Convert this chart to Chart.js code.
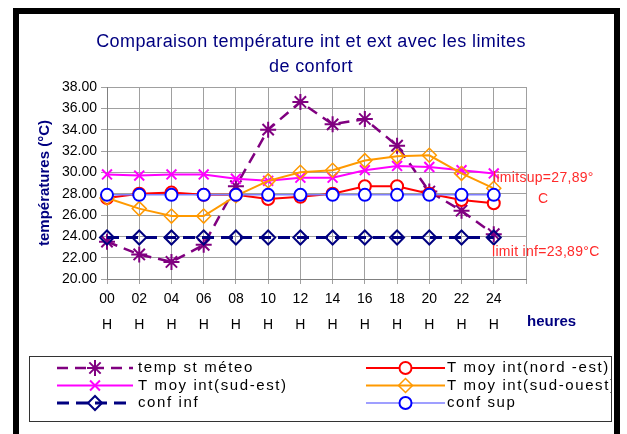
<!DOCTYPE html>
<html>
<head>
<meta charset="utf-8">
<script src="https://cdn.jsdelivr.net/npm/chart.js"></script>
<style>
  html, body { margin: 0; padding: 0; background: #fff; }
  #wrap { width: 627px; height: 434px; }
</style>
</head>
<body>
<div id="wrap"><canvas id="graph" width="627" height="434"></canvas></div>
<script>
// heures de la journee (la derniere case est vide, comme dans Excel)
const heures = ['00', '02', '04', '06', '08', '10', '12', '14', '16', '18', '20', '22', '24', ''];

const tempMeteo = [23.5, 22.3, 21.6, 23.2, 28.7, 34.0, 36.6, 34.5, 35.0, 32.5, 28.2, 26.4, 24.2];
const tNordEst  = [27.6, 28.0, 28.1, 27.9, 27.9, 27.5, 27.7, 28.0, 28.7, 28.7, 28.0, 27.4, 27.1];
const tSudEst   = [29.8, 29.7, 29.8, 29.8, 29.4, 29.2, 29.5, 29.5, 30.2, 30.6, 30.5, 30.2, 29.9];
const tSudOuest = [27.6, 26.6, 25.9, 25.9, 27.8, 29.2, 30.0, 30.2, 31.1, 31.5, 31.6, 29.9, 28.5];
const confInf   = [23.89, 23.89, 23.89, 23.89, 23.89, 23.89, 23.89, 23.89, 23.89, 23.89, 23.89, 23.89, 23.89];
const confSup   = [27.89, 27.89, 27.89, 27.89, 27.89, 27.89, 27.89, 27.89, 27.89, 27.89, 27.89, 27.89, 27.89];

const titre = ['Comparaison température int et ext avec les limites', 'de confort'];
const FONT = 'Arial, "Liberation Sans", sans-serif';

function serie(label, data, color, opts) {
    return Object.assign({
        label: label,
        data: data,
        borderColor: color,
        pointBorderColor: color,
        pointBackgroundColor: 'rgba(0,0,0,0)',
        borderWidth: 2,
        pointBorderWidth: 2,
        pointRadius: 6,
        pointHoverRadius: 6,
        tension: 0,
        fill: false,
        clip: false
    }, opts);
}

const datasets = [
    serie('temp st méteo', tempMeteo, '#800080', {borderDash: [11, 7], borderWidth: 2.5, pointStyle: 'star', pointRadius: 8, order: 6}),
    serie('T moy int(nord -est)', tNordEst, '#ff0000', {pointStyle: 'circle', pointBackgroundColor: '#fff', order: 5}),
    serie('T moy int(sud-est)', tSudEst, '#ff00ff', {pointStyle: 'crossRot', pointRadius: 7, order: 4}),
    serie('T moy int(sud-ouest)', tSudOuest, '#ff9900', {pointStyle: 'rectRot', pointRadius: 7, pointBorderWidth: 1.5, order: 3}),
    serie('conf inf', confInf, '#000080', {borderDash: [12, 7], borderWidth: 3, pointStyle: 'rectRot', pointRadius: 7, order: 2}),
    serie('conf sup', confSup, '#0000ff', {borderColor: '#7f7fff', borderWidth: 1.5, pointStyle: 'circle', pointBackgroundColor: '#fff', order: 1})
];

// cadre, titre, textes et legende dessines a la main
const decor = {
    id: 'decor',
    beforeDraw(chart) {
        const ctx = chart.ctx;
        ctx.save();
        ctx.fillStyle = '#fff';
        ctx.fillRect(0, 0, chart.width, chart.height);
        ctx.restore();
    },
    afterDraw(chart) {
        const ctx = chart.ctx;
        ctx.save();
        // cadre noir
        ctx.fillStyle = '#000';
        ctx.fillRect(13, 8, 607, 6);
        ctx.fillRect(13, 8, 6, 426);
        ctx.fillRect(614, 8, 6, 426);

        // titre
        ctx.fillStyle = '#000080';
        ctx.font = '18px ' + FONT;
        ctx.textAlign = 'center';
        ctx.textBaseline = 'alphabetic';
        ctx.letterSpacing = '0.4px';
        ctx.fillText(titre[0], 311, 47);
        ctx.fillText(titre[1], 311, 72);

        // heures
        ctx.letterSpacing = '0px';
        ctx.font = 'bold 15px ' + FONT;
        ctx.textAlign = 'left';
        ctx.textBaseline = 'middle';
        ctx.fillText('heures', 527, 322);

        // limites
        ctx.fillStyle = '#ff2a2a';
        ctx.font = '14px ' + FONT;
        ctx.letterSpacing = '0.3px';
        ctx.fillText('limitsup=27,89°', 493, 178);
        ctx.fillText('C', 538, 199);
        ctx.fillText('limit inf=23,89°C', 492, 252);

        // legende
        ctx.letterSpacing = '0px';
        ctx.strokeStyle = '#333';
        ctx.lineWidth = 1;
        ctx.strokeRect(29.5, 356.5, 582, 65);
        ctx.beginPath();
        ctx.rect(30, 357, 581, 64);
        ctx.clip();
        const cols = [{x1: 57, x2: 133, xt: 138}, {x1: 366, x2: 445, xt: 447}];
        const rows = [368, 385.5, 403];
        chart.data.datasets.forEach((ds, i) => {
            const c = cols[i % 2];
            const y = rows[Math.floor(i / 2)];
            ctx.save();
            ctx.strokeStyle = ds.borderColor;
            ctx.lineWidth = ds.borderWidth;
            ctx.setLineDash(ds.borderDash || []);
            ctx.beginPath();
            ctx.moveTo(c.x1, y);
            ctx.lineTo(c.x2, y);
            ctx.stroke();
            ctx.setLineDash([]);
            ctx.strokeStyle = ds.pointBorderColor;
            ctx.fillStyle = ds.pointBackgroundColor;
            ctx.lineWidth = ds.pointBorderWidth;
            Chart.helpers.drawPoint(ctx, {
                pointStyle: ds.pointStyle,
                radius: ds.pointRadius,
                rotation: 0,
                borderWidth: ds.pointBorderWidth
            }, (c.x1 + c.x2) / 2, y);
            ctx.restore();
            ctx.fillStyle = '#000';
            ctx.font = '15px ' + FONT;
            ctx.letterSpacing = '1.6px';
            ctx.textAlign = 'left';
            ctx.textBaseline = 'middle';
            ctx.fillText(ds.label, c.xt, y);
        });
        ctx.restore();
    }
};

const config = {
    type: 'line',
    data: {
        labels: heures.map(h => h ? [h, 'H'] : ''),
        datasets: datasets
    },
    options: {
        responsive: false,
        animation: false,
        events: [],
        layout: {padding: {left: 19, right: 101, top: 87, bottom: 95}},
        plugins: {
            legend: {display: false},
            title: {display: false},
            tooltip: {enabled: false}
        },
        scales: {
            x: {
                type: 'category',
                offset: false,
                grid: {color: '#a0a0a0', tickLength: 5},
                border: {color: '#808080'},
                ticks: {
                    color: '#000',
                    font: {family: FONT, size: 14, lineHeight: 1.8},
                    padding: 3,
                    maxRotation: 0,
                    autoSkip: false
                },
                afterFit(s) { s.height = 60; }
            },
            y: {
                min: 20,
                max: 38,
                grid: {color: '#a0a0a0', tickLength: 6},
                border: {color: '#808080'},
                ticks: {
                    stepSize: 2,
                    color: '#000',
                    font: {family: FONT, size: 14},
                    padding: 4,
                    callback: v => v.toFixed(2)
                },
                title: {
                    display: true,
                    text: 'températures (°C)',
                    color: '#000080',
                    font: {family: FONT, size: 15, weight: 'bold'},
                    padding: {top: 17, bottom: 0}
                },
                afterFit(s) { s.width = 88; }
            }
        }
    },
    plugins: [decor]
};

let ctx = document.getElementById('graph').getContext('2d');
new Chart(ctx, config);
</script>
</body>
</html>
